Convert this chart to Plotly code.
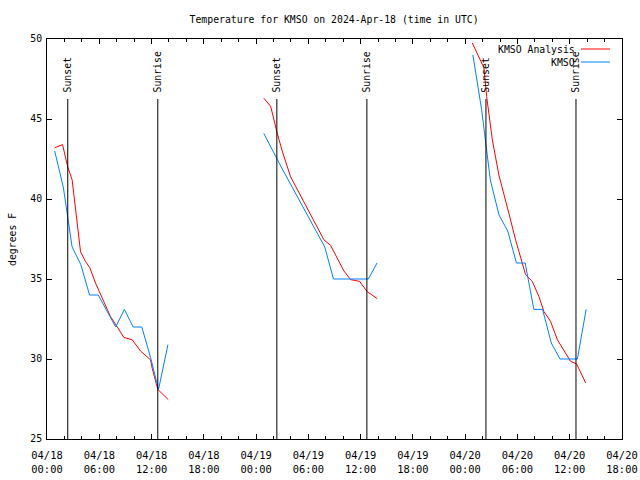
import plotly.graph_objects as go

days = ["2024-04-18", "2024-04-19", "2024-04-20"]

# KMSO observations (blue), per day
obs_times = [
    ["00:53", "01:53", "02:53", "03:53", "04:53", "05:53", "06:53", "07:53", "08:53", "09:53", "10:53", "11:53", "12:48", "13:53"],
    ["00:53", "01:53", "02:53", "03:53", "04:53", "05:53", "06:53", "07:53", "08:53", "09:53", "10:53", "11:53", "12:53", "13:53"],
    ["00:53", "01:53", "02:53", "03:53", "04:53", "05:53", "06:53", "07:53", "08:53", "09:53", "10:53", "11:53", "12:53", "13:53"],
]
obs_vals = [
    [43.0, 40.7, 37.0, 35.9, 34.0, 34.0, 33.0, 32.0, 33.1, 32.0, 32.0, 30.1, 28.1, 30.9],
    [44.1, 43.0, 42.0, 41.0, 40.0, 39.0, 38.0, 37.0, 35.0, 35.0, 35.0, 35.0, 35.0, 36.0],
    [49.0, 45.6, 41.2, 39.0, 38.0, 36.0, 36.0, 33.1, 33.1, 31.0, 30.0, 30.0, 30.0, 33.1],
]

# KMSO Analysis (red), per day
ana_times = [
    ["00:52", "01:47", "02:23", "02:53", "03:28", "03:51", "04:25", "04:55", "05:34", "06:31", "07:17", "08:04", "08:49", "09:47", "10:44", "11:53", "12:05", "12:43", "13:55"],
    ["00:53", "01:40", "02:26", "03:00", "03:57", "05:06", "05:52", "07:47", "08:33", "10:05", "10:51", "11:53", "12:46", "13:55"],
    ["00:49", "01:46", "02:09", "02:28", "03:07", "03:52", "04:16", "05:01", "05:47", "06:33", "06:56", "07:42", "08:28", "09:02", "09:48", "10:35", "11:20", "12:06", "12:47", "13:50"],
]
ana_vals = [
    [43.2, 43.4, 42.0, 41.2, 38.5, 36.7, 36.1, 35.7, 34.75, 33.6, 32.66, 32.0, 31.35, 31.2, 30.5, 29.95, 29.4, 28.1, 27.46],
    [46.3, 45.8, 44.1, 43.0, 41.4, 40.2, 39.5, 37.45, 37.1, 35.5, 34.96, 34.85, 34.2, 33.77],
    [49.75, 48.6, 48.2, 46.4, 43.7, 41.5, 40.7, 39.1, 37.45, 36.0, 35.27, 34.85, 33.9, 32.97, 32.35, 31.2, 30.5, 29.85, 29.7, 28.5],
]

sunset_times = ["2024-04-18 02:23", "2024-04-19 02:23", "2024-04-20 02:23"]
sunrise_times = ["2024-04-18 12:43", "2024-04-19 12:43", "2024-04-20 12:43"]

y_ticks = [25, 30, 35, 40, 45, 50]
x_range = ["2024-04-18 00:00", "2024-04-20 18:00"]


def join(times, vals):
    xs, ys = [], []
    for d, ts, vs in zip(days, times, vals):
        xs += [f"{d} {t}" for t in ts] + [None]
        ys += list(vs) + [None]
    return xs[:-1], ys[:-1]


FONT = "DejaVu Sans Mono"
FS = 9.8

ax, ay = join(ana_times, ana_vals)
ox, oy = join(obs_times, obs_vals)

fig = go.Figure()
fig.add_trace(go.Scatter(x=ax, y=ay, mode="lines", name="KMSO Analysis",
                         line=dict(color="#ff0000", width=1), connectgaps=False))
fig.add_trace(go.Scatter(x=ox, y=oy, mode="lines", name="KMSO",
                         line=dict(color="#0080ff", width=1), connectgaps=False))

shapes = []
annotations = []
for t, lab in [(s, "Sunset") for s in sunset_times] + [(s, "Sunrise") for s in sunrise_times]:
    shapes.append(dict(type="line", xref="x", yref="paper", x0=t, x1=t, y0=0, y1=0.85,
                       line=dict(color="black", width=1)))
    annotations.append(dict(x=t, y=0.862, xref="x", yref="paper", text=lab, textangle=-90,
                            showarrow=False, xanchor="center", yanchor="bottom",
                            font=dict(family=FONT, size=FS, color="black")))

# legend (gnuplot style: text then sample)
for name, col, yp in [("KMSO Analysis", "#ff0000", 0.975), ("KMSO", "#0080ff", 0.9425)]:
    annotations.append(dict(x=0.921, y=yp, xref="paper", yref="paper", text=name, showarrow=False,
                            xanchor="right", yanchor="middle",
                            font=dict(family=FONT, size=FS, color="black")))
    shapes.append(dict(type="line", xref="paper", yref="paper", x0=0.9287, x1=0.979, y0=yp, y1=yp,
                       line=dict(color=col, width=1)))

annotations.append(dict(x=-0.061, y=0.5, xref="paper", yref="paper", text="degrees F", textangle=-90,
                        showarrow=False, xanchor="center", yanchor="middle",
                        font=dict(family=FONT, size=FS, color="black")))

fig.update_layout(
    width=640, height=480,
    margin=dict(l=47, r=18, t=39, b=41, autoexpand=False),
    plot_bgcolor="white", paper_bgcolor="white",
    showlegend=False,
    title=dict(text="Temperature for KMSO on 2024-Apr-18 (time in UTC)", x=0.522, xanchor="center",
               y=0.96, yanchor="middle", yref="container",
               font=dict(family=FONT, size=FS, color="black")),
    font=dict(family=FONT, size=FS, color="black"),
    shapes=shapes, annotations=annotations,
)
fig.update_xaxes(
    type="date", range=x_range, tick0="2024-04-18 00:00", dtick=6 * 3600 * 1000,
    tickformat="%m/%d<br>%H:%M", ticks="inside", ticklen=5, tickcolor="black",
    showline=True, linecolor="black", linewidth=1, mirror="allticks", showgrid=False,
    zeroline=False, automargin=False, ticklabelstandoff=7,
    minor=dict(dtick=2 * 3600 * 1000, ticks="inside", ticklen=3, tickcolor="black", showgrid=False),
    tickfont=dict(family=FONT, size=10.4, color="black"),
)
fig.update_yaxes(
    range=[25, 50], tickvals=y_ticks, ticktext=[str(v) for v in y_ticks],
    ticks="inside", ticklen=5, tickcolor="black",
    showline=True, linecolor="black", linewidth=1, mirror="allticks", showgrid=False,
    zeroline=False, ticklabelstandoff=2, automargin=False,
    tickfont=dict(family=FONT, size=FS, color="black"),
)

fig.write_html("out.html")
